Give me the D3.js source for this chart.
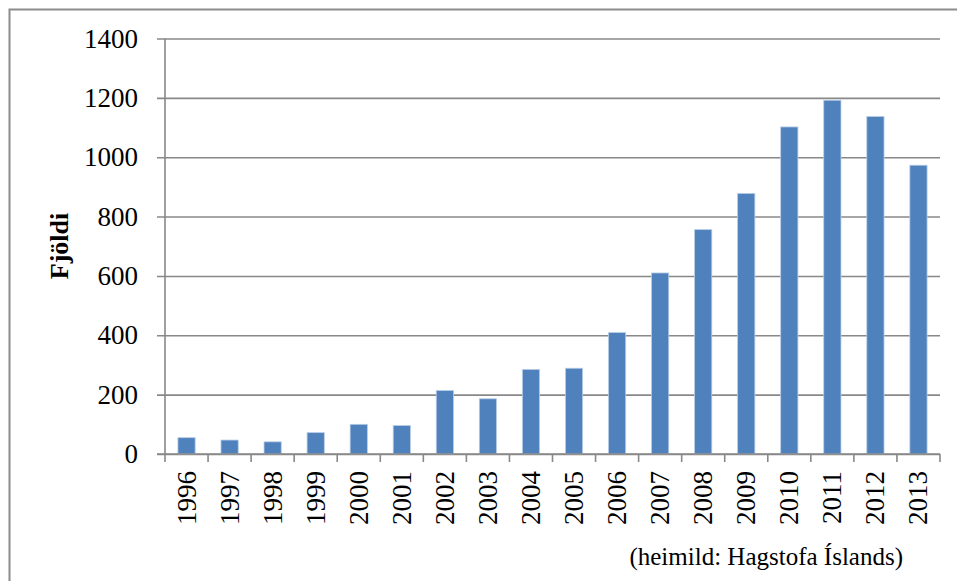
<!DOCTYPE html>
<html>
<head>
<meta charset="utf-8">
<script src="https://cdn.jsdelivr.net/npm/d3@7"></script>
<style>
  body { margin: 0; background: #fff; }
  svg { display: block; }
  .axis text { font-family: "Liberation Serif", serif; fill: #000; }
</style>
</head>
<body>
<div id="chartWrap"></div>
<script>
'use strict'
// data
const years = ['1996', '1997', '1998', '1999', '2000', '2001', '2002', '2003', '2004',
    '2005', '2006', '2007', '2008', '2009', '2010', '2011', '2012', '2013'];
const counts = [55, 47, 41, 72, 100, 96, 214, 186, 285, 289, 409, 610, 756, 878, 1102, 1192, 1137, 973];
const yTicks = [0, 200, 400, 600, 800, 1000, 1200, 1400];
const yLabel = 'Fjöldi';
const sourceNote = '(heimild: Hagstofa Íslands)';

const svgWidth = 957,
    svgHeight = 581,
    margin = { top: 38.5, right: 17, bottom: 127, left: 165 },
    chartWidth = svgWidth - margin.left - margin.right,
    chartHeight = svgHeight - margin.top - margin.bottom;

const gridColor = '#888888';
const barColor = '#4f81bd';

const svg = d3.select('#chartWrap')
    .append('svg')
    .attr('width', svgWidth)
    .attr('height', svgHeight);

// outer frame, runs off the right and bottom of the picture
svg.append('rect')
    .attr('x', 9.5)
    .attr('y', 9.5)
    .attr('width', svgWidth + 20)
    .attr('height', svgHeight + 20)
    .attr('fill', 'none')
    .attr('stroke', '#8c8c8c')
    .attr('stroke-width', 2);

const chart = svg.append('g')
    .attr('transform', `translate(${margin.left}, ${margin.top})`);

const xScale = d3.scaleBand()
    .domain(years)
    .range([0, chartWidth])
    .paddingInner(0.6)
    .paddingOuter(0.3);

const xGrid = d3.scaleBand().domain(years).range([0, chartWidth]);

const yScale = d3.scaleLinear()
    .domain([0, 1400])
    .range([chartHeight, 0]);

// y axis with gridlines
chart.append('g')
    .attr('class', 'axis axis-y')
    .call(d3.axisLeft(yScale).tickValues(yTicks).tickFormat(d3.format('d')).tickSize(8).tickPadding(19))
    .call(g => g.select('.domain').remove())
    .call(g => g.selectAll('.tick line')
        .attr('x1', -8)
        .attr('x2', chartWidth)
        .attr('stroke', gridColor)
        .attr('stroke-width', 1.6))
    .call(g => g.selectAll('.tick text')
        .attr('font-size', '27px'));

// bars
chart.append('g')
    .selectAll('rect')
    .data(counts)
    .join('rect')
    .attr('x', (d, i) => xScale(years[i]))
    .attr('y', d => yScale(d))
    .attr('width', xScale.bandwidth())
    .attr('height', d => yScale(0) - yScale(d))
    .attr('fill', barColor)
    .attr('stroke', '#b9cde5')
    .attr('stroke-width', 0.8);

// vertical axis line
chart.append('line')
    .attr('x1', 0).attr('x2', 0)
    .attr('y1', 0).attr('y2', chartHeight)
    .attr('stroke', gridColor)
    .attr('stroke-width', 1.6);

// x axis: ticks between categories, rotated year labels
const xAxis = chart.append('g')
    .attr('class', 'axis axis-x')
    .attr('transform', `translate(0, ${chartHeight})`);

xAxis.append('line')
    .attr('x1', -8).attr('x2', chartWidth)
    .attr('stroke', gridColor)
    .attr('stroke-width', 1.6);

xAxis.selectAll('line.sep')
    .data(years.concat(['end']))
    .join('line')
    .attr('class', 'sep')
    .attr('x1', (d, i) => i * xGrid.bandwidth())
    .attr('x2', (d, i) => i * xGrid.bandwidth())
    .attr('y1', 0)
    .attr('y2', 8)
    .attr('stroke', gridColor)
    .attr('stroke-width', 1.6);

xAxis.selectAll('text')
    .data(years)
    .join('text')
    .attr('transform', d => `translate(${xGrid(d) + xGrid.bandwidth() / 2 + 9}, 17) rotate(-90)`)
    .attr('text-anchor', 'end')
    .attr('font-size', '27px')
    .text(d => d);

// y axis title
svg.append('text')
    .attr('transform', 'translate(68, 246) rotate(-90)')
    .attr('text-anchor', 'middle')
    .attr('font-family', '"Liberation Serif", serif')
    .attr('font-weight', 'bold')
    .attr('font-size', '26px')
    .text(yLabel);

// source note
svg.append('text')
    .attr('x', 903)
    .attr('y', 565)
    .attr('text-anchor', 'end')
    .attr('font-family', '"Liberation Serif", serif')
    .attr('font-size', '25px')
    .text(sourceNote);
</script>
</body>
</html>
